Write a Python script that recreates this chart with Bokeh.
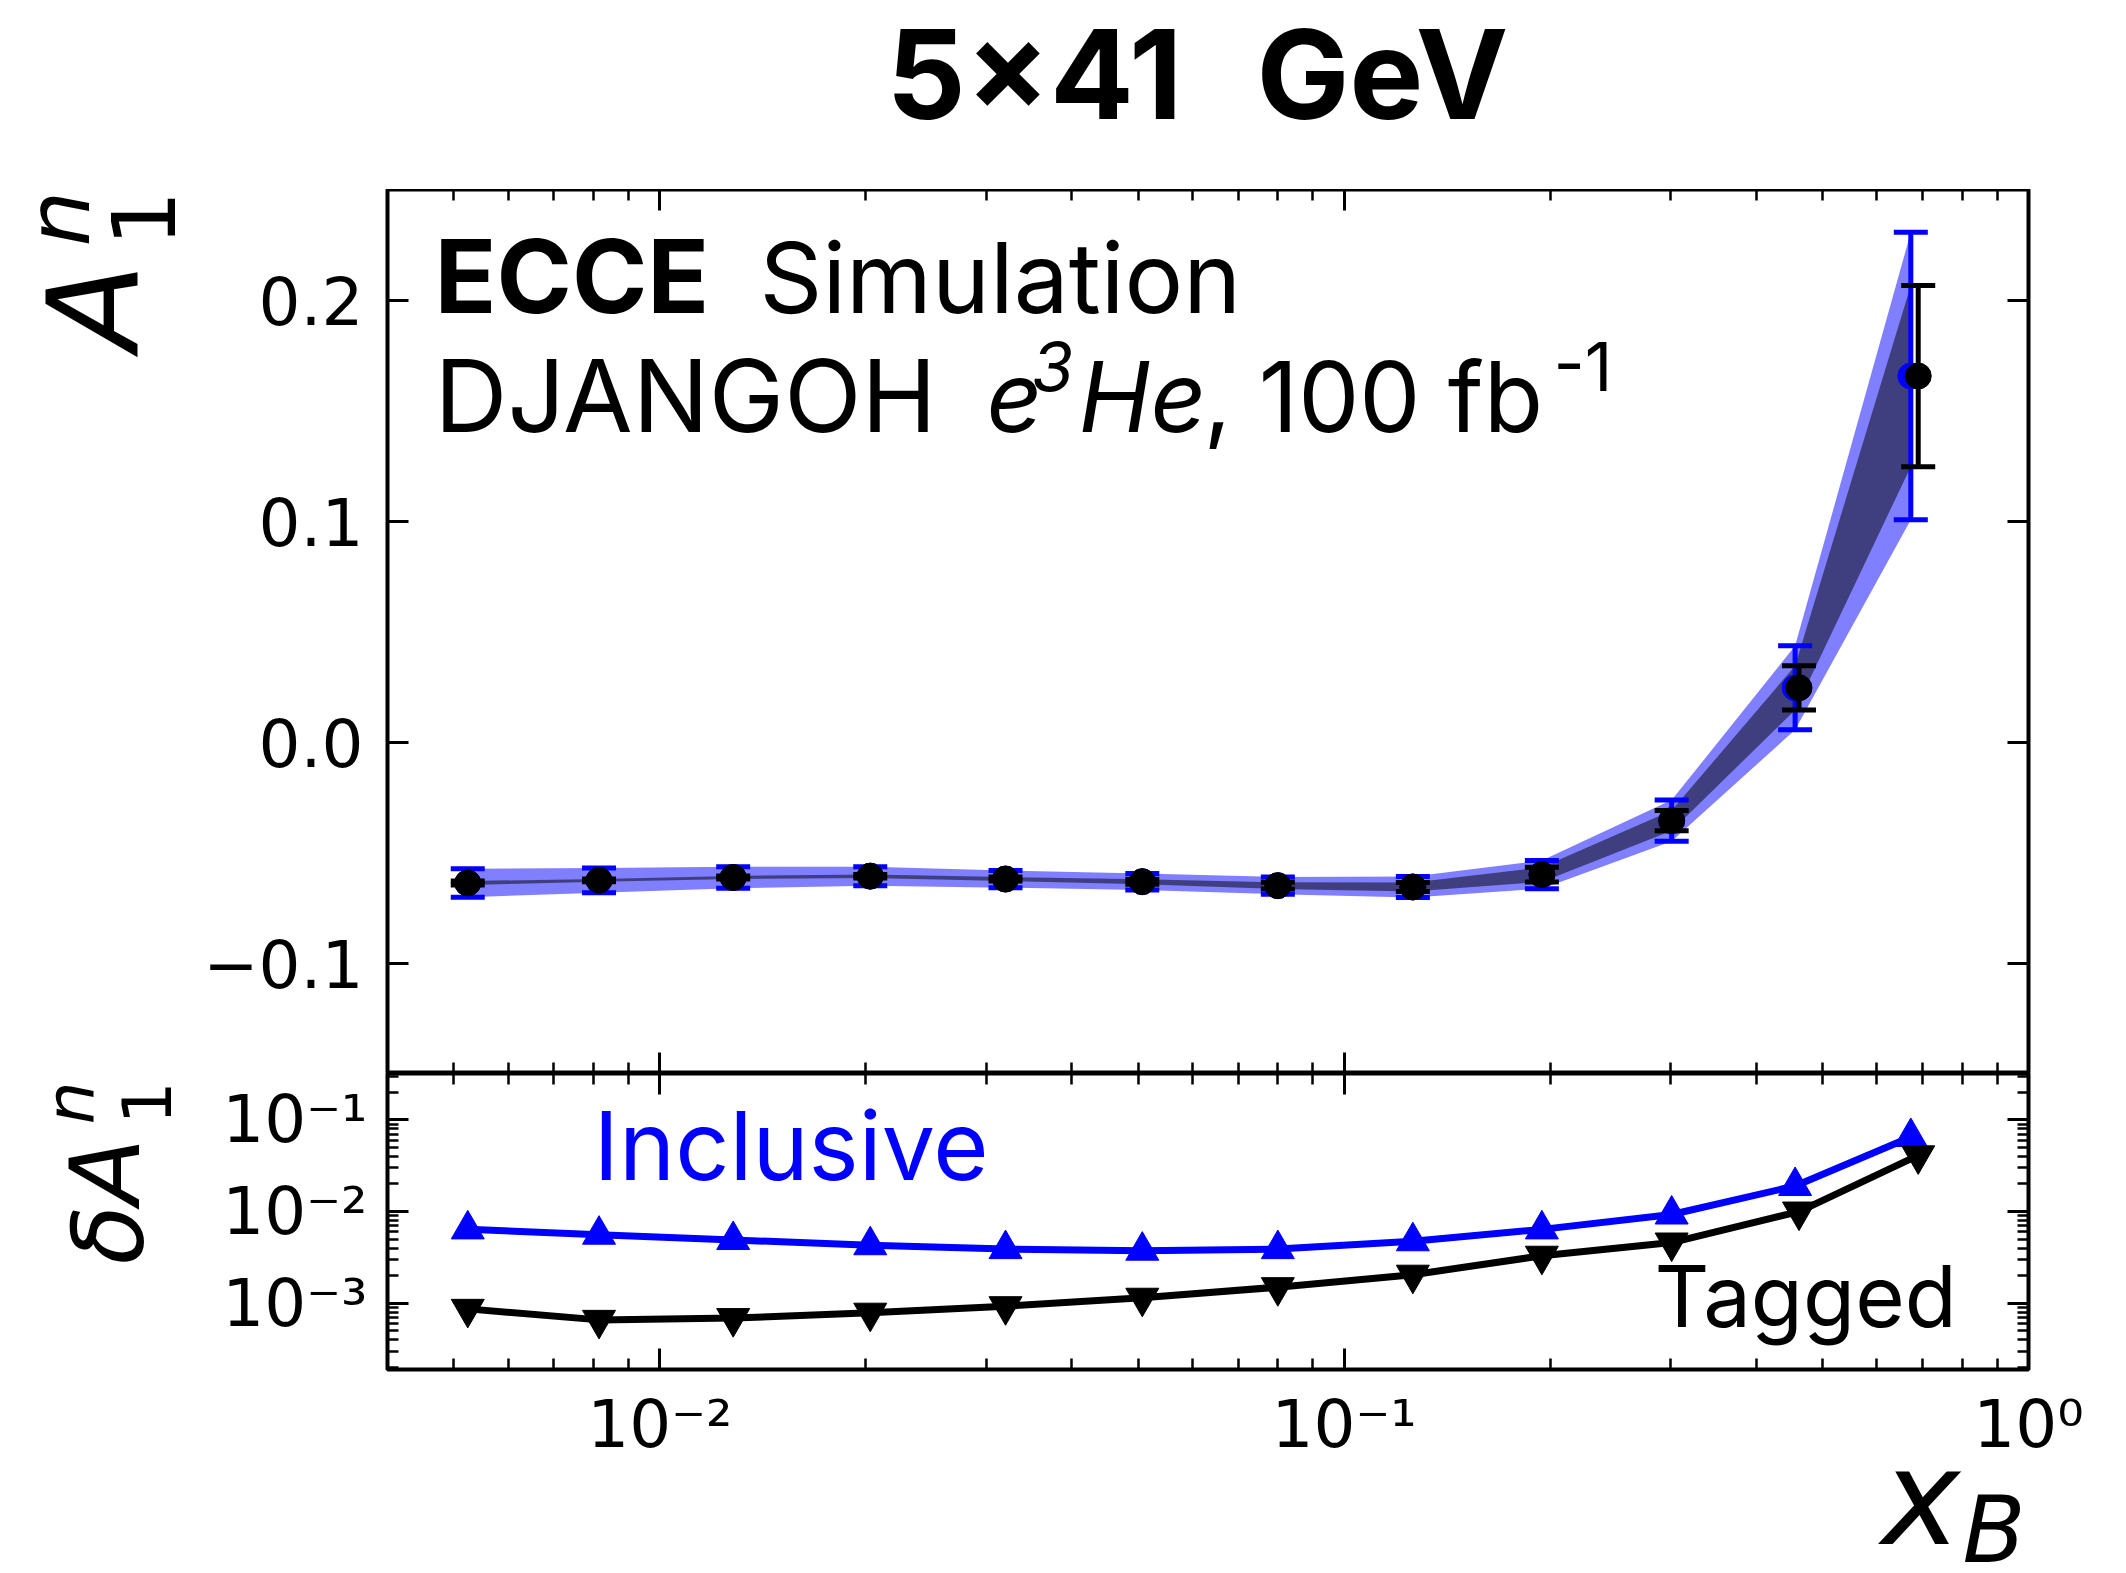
import numpy as np
from bokeh.plotting import figure
from bokeh.models import Range1d, LinearAxis, LogAxis, FixedTicker, LogTicker, Label, CustomJSTickFormatter
from bokeh.layouts import column, row
from bokeh.embed import file_html
from bokeh.resources import INLINE

# ---------------- data ----------------
x_inc = [0.00524, 0.00815, 0.0128, 0.0203, 0.032, 0.0507, 0.080, 0.126, 0.1945, 0.301, 0.456, 0.673]
x_tag = [0.00524, 0.00815, 0.0128, 0.0203, 0.032, 0.0507, 0.080, 0.126, 0.1945, 0.301, 0.462, 0.690]
a1n = [-0.0638, -0.0626, -0.0613, -0.0607, -0.0620, -0.0632, -0.0650, -0.0656, -0.0600, -0.0356, 0.0245, 0.1656]
err_inc = [6.4e-3, 5.6e-3, 4.9e-3, 4.3e-3, 3.9e-3, 3.75e-3, 3.9e-3, 4.75e-3, 6.4e-3, 9.3e-3, 1.9e-2, 6.5e-2]
err_tag = [8.7e-4, 6.6e-4, 6.9e-4, 7.9e-4, 9.3e-4, 1.15e-3, 1.5e-3, 2.05e-3, 3.3e-3, 4.6e-3, 1.0e-2, 4.1e-2]

title_parts = ["5×41", "GeV"]
y_ticks_top = [-0.1, 0.0, 0.1, 0.2]

# ---------------- geometry (page pixels) ----------------
W, H = 2126, 1573
LW = 200                 # left text strip
FL, FR = 387, 2028       # frame left/right
TT, TB, BB = 189, 1073, 1369
XL_TOP = 1471            # top of x-label strip
XMIN, XMAX = 0.004, 1.0
YT = (-0.15, 0.25)
YB = (1.9e-4, 0.32)
K = 0.39                 # empirical baseline correction (fraction of font size)


def px_x(px):
    l0, l1 = np.log10(XMIN), np.log10(XMAX)
    return 10 ** (l0 + (px - FL) / (FR - FL) * (l1 - l0))


def py_top(py):
    return YT[1] - (py - TT) / (TB - TT) * (YT[1] - YT[0])


def py_bot(py):
    l0, l1 = np.log10(YB[0]), np.log10(YB[1])
    return 10 ** (l1 - (py - TB) / (BB - TB) * (l1 - l0))


def ident(v):
    return v


TICK_FONT = "DejaVu Sans"
ANN_FONT = "Inter"
LOG_FMT = CustomJSTickFormatter(code="""
const e = Math.round(Math.log10(tick));
const m = {'-':'\u207b','0':'\u2070','1':'\u00b9','2':'\u00b2','3':'\u00b3','4':'\u2074'};
return '10' + String(e).split('').map(c => m[c]).join('');
""")


def style_axis(ax, labels, standoff=20):
    ax.axis_line_color = None
    ax.major_tick_in = 21
    ax.major_tick_out = 0
    ax.minor_tick_in = 11
    ax.minor_tick_out = 0
    ax.major_tick_line_width = 3
    ax.minor_tick_line_width = 2.5
    ax.major_tick_line_color = "black"
    ax.minor_tick_line_color = "black"
    if labels:
        ax.major_label_text_font = TICK_FONT
        ax.major_label_text_font_size = "66px"
        ax.major_label_text_color = "black"
        ax.major_label_standoff = standoff
    else:
        ax.formatter = CustomJSTickFormatter(code="return '';")
        ax.major_label_text_font_size = "0px"
        ax.major_label_standoff = 0


x_range = Range1d(XMIN, XMAX)


def panel_fig(height, y_range, y_type, bottom):
    p = figure(width=W - LW, height=height, x_axis_type="log", y_axis_type=y_type,
               x_range=x_range, y_range=y_range, output_backend="svg", title=None,
               toolbar_location=None, min_border_left=FL - LW, min_border_right=W - FR,
               min_border_top=0, min_border_bottom=bottom)
    p.grid.visible = False
    p.outline_line_color = "black"
    p.outline_line_width = 4
    p.background_fill_color = "white"
    p.border_fill_color = "white"
    return p


def canvas(x0, x1, y0, y1):
    # a blank figure whose data coordinates equal page pixels
    c = figure(width=x1 - x0, height=y1 - y0, x_range=Range1d(x0, x1), y_range=Range1d(y1, y0),
               x_axis_type=None, y_axis_type=None, output_backend="svg", title=None,
               toolbar_location=None, min_border=0)
    c.outline_line_color = None
    c.background_fill_color = "white"
    c.border_fill_color = "white"
    return c


def tlab(p, px, py, conv, text, size, style="normal", color="black", font=ANN_FONT,
         angle=0.0, align="left", xconv=px_x):
    if angle == 0.0:
        py = py - K * size
    else:
        px = px - K * size
    p.add_layout(Label(x=xconv(px), y=conv(py), text=text, text_align=align,
                       text_baseline="alphabetic", text_font=font, text_font_style=style,
                       text_font_size=f"{size}px", text_color=color, angle=angle))


# ---------------- title strip ----------------
ct = canvas(0, W, 0, TT)
tlab(ct, 886, 122, ident, title_parts[0], 124, "bold", xconv=ident)
tlab(ct, 1256, 122, ident, title_parts[1], 124, "bold", xconv=ident)

# ---------------- top panel ----------------
pt = panel_fig(TB - TT, Range1d(*YT), "linear", 0)
lo_i = [v - e for v, e in zip(a1n, err_inc)]
hi_i = [v + e for v, e in zip(a1n, err_inc)]
lo_t = [v - e for v, e in zip(a1n, err_tag)]
hi_t = [v + e for v, e in zip(a1n, err_tag)]
pt.varea(x=x_inc, y1=lo_i, y2=hi_i, fill_color="blue", fill_alpha=0.5)
pt.varea(x=x_inc, y1=lo_t, y2=hi_t, fill_color="black", fill_alpha=0.5)
pt.segment(x0=x_inc, y0=lo_i, x1=x_inc, y1=hi_i, line_color="blue", line_width=5)
pt.scatter(x=x_inc + x_inc, y=lo_i + hi_i, marker="dash", size=34, line_color="blue", line_width=5)
pt.scatter(x=x_inc, y=a1n, marker="circle", size=26, fill_color="blue", line_color="blue")
pt.segment(x0=x_tag, y0=lo_t, x1=x_tag, y1=hi_t, line_color="black", line_width=5)
pt.scatter(x=x_tag + x_tag, y=lo_t + hi_t, marker="dash", size=34, line_color="black", line_width=5)
pt.scatter(x=x_tag, y=a1n, marker="circle", size=26, fill_color="black", line_color="black")

yl = pt.yaxis[0]
yl.ticker = FixedTicker(ticks=y_ticks_top, minor_ticks=[])
yl.formatter = CustomJSTickFormatter(code="return (tick < -1e-9 ? '\u2212' : '') + Math.abs(tick).toFixed(1);")
style_axis(yl, True, 24)
style_axis(pt.xaxis[0], False)
ax_r = LinearAxis(ticker=FixedTicker(ticks=y_ticks_top, minor_ticks=[]))
style_axis(ax_r, False)
pt.add_layout(ax_r, "right")
ax_a = LogAxis(ticker=LogTicker(num_minor_ticks=10))
style_axis(ax_a, False)
pt.add_layout(ax_a, "above")

tlab(pt, 434, 315, py_top, "ECCE", 102, "bold")
tlab(pt, 759, 315, py_top, "Simulation", 98)
tlab(pt, 434, 434, py_top, "DJANGOH", 101)
tlab(pt, 986, 434, py_top, "e", 97, "italic")
tlab(pt, 1031, 393, py_top, "3", 68, "italic")
tlab(pt, 1078, 434, py_top, "He", 97, "italic")
tlab(pt, 1203, 434, py_top, ", 100 fb", 97)
tlab(pt, 1553, 393, py_top, "-1", 68)

# ---------------- bottom panel ----------------
pb = panel_fig(XL_TOP - TB, Range1d(*YB), "log", XL_TOP - BB)
pb.line(x=x_inc, y=err_inc, line_color="blue", line_width=7)
pb.scatter(x=x_inc, y=err_inc, marker="triangle", size=33, fill_color="blue", line_color="blue")
pb.line(x=x_tag, y=err_tag, line_color="black", line_width=7)
pb.scatter(x=x_tag, y=err_tag, marker="inverted_triangle", size=33, fill_color="black", line_color="black")

bx = pb.xaxis[0]
bx.formatter = LOG_FMT
style_axis(bx, True, 16)
by = pb.yaxis[0]
by.formatter = LOG_FMT
style_axis(by, True, 20)
bx_a = LogAxis(ticker=LogTicker(num_minor_ticks=10))
style_axis(bx_a, False)
pb.add_layout(bx_a, "above")
by_r = LogAxis(ticker=LogTicker(num_minor_ticks=10))
style_axis(by_r, False)
pb.add_layout(by_r, "right")

tlab(pb, 593, 1182, py_bot, "Inclusive", 95, color="blue")
tlab(pb, 1654, 1329, py_bot, "Tagged", 85)

# ---------------- x-label strip ----------------
cx = canvas(0, W, XL_TOP, H)
tlab(cx, 1881, 1550, ident, "x", 134, "italic", font=TICK_FONT, xconv=ident)
tlab(cx, 1962, 1566, ident, "B", 92, "italic", font=TICK_FONT, xconv=ident)

# ---------------- left y-label strip ----------------
cl = canvas(0, LW, TT, XL_TOP)
R = np.pi / 2
tlab(cl, 143, 350, ident, "A", 127, "italic", font=TICK_FONT, angle=R, xconv=ident)
tlab(cl, 177, 246, ident, "1", 88, font=TICK_FONT, angle=R, xconv=ident)
tlab(cl, 92, 246, ident, "n", 88, "italic", font=TICK_FONT, angle=R, xconv=ident)
tlab(cl, 147, 1264, ident, "δ", 97, "italic", font=TICK_FONT, angle=R, xconv=ident)
tlab(cl, 143, 1204, ident, "A", 97, "italic", font=TICK_FONT, angle=R, xconv=ident)
tlab(cl, 172, 1124, ident, "1", 68, font=TICK_FONT, angle=R, xconv=ident)
tlab(cl, 97, 1124, ident, "n", 68, "italic", font=TICK_FONT, angle=R, xconv=ident)

layout = column(ct, row(cl, column(pt, pb, spacing=0), spacing=0), cx, spacing=0)
open("out.html", "w").write(file_html(layout, INLINE))
